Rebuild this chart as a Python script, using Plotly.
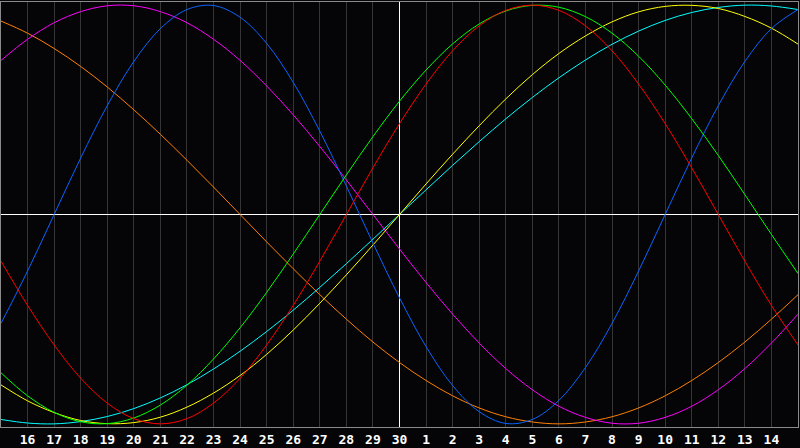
import plotly.graph_objects as go

# day offsets relative to "today" (30th) and labels
days = list(range(-15, 16))
tick_offsets = list(range(-14, 15))
tick_labels = ["16", "17", "18", "19", "20", "21", "22", "23", "24", "25", "26", "27", "28", "29", "30",
               "1", "2", "3", "4", "5", "6", "7", "8", "9", "10", "11", "12", "13", "14"]

blue = [-0.520, -0.270, 0.000, 0.270, 0.520, 0.731, 0.888, 0.979, 0.998, 0.942, 0.817, 0.631, 0.398, 0.136, -0.136, -0.398,
        -0.631, -0.817, -0.942, -0.998, -0.979, -0.888, -0.731, -0.520, -0.270, 0.000, 0.270, 0.520, 0.731, 0.888, 0.979]
red = [-0.223, -0.434, -0.623, -0.782, -0.901, -0.975, -1.000, -0.975, -0.901, -0.782, -0.623, -0.434, -0.223, 0.000, 0.223, 0.434,
       0.623, 0.782, 0.901, 0.975, 1.000, 0.975, 0.901, 0.782, 0.623, 0.434, 0.223, 0.000, -0.223, -0.434, -0.623]
green = [-0.756, -0.866, -0.945, -0.990, -0.999, -0.972, -0.910, -0.815, -0.690, -0.541, -0.372, -0.189, 0.000, 0.189, 0.372, 0.541,
         0.690, 0.815, 0.910, 0.972, 0.999, 0.990, 0.945, 0.866, 0.756, 0.618, 0.458, 0.282, 0.095, -0.095, -0.282]
magenta = [0.736, 0.837, 0.916, 0.969, 0.997, 0.997, 0.969, 0.916, 0.837, 0.736, 0.614, 0.476, 0.325, 0.165, 0.000, -0.165,
           -0.325, -0.476, -0.614, -0.736, -0.837, -0.916, -0.969, -0.997, -0.997, -0.969, -0.916, -0.837, -0.736, -0.614, -0.476]
yellow = [-0.814, -0.890, -0.946, -0.984, -0.999, -0.994, -0.968, -0.920, -0.853, -0.769, -0.668, -0.552, -0.424, -0.288, -0.146, 0.000,
          0.146, 0.288, 0.424, 0.552, 0.668, 0.769, 0.853, 0.920, 0.968, 0.994, 0.999, 0.984, 0.946, 0.890, 0.814]
orange = [0.924, 0.866, 0.793, 0.707, 0.609, 0.500, 0.383, 0.259, 0.131, 0.000, -0.131, -0.259, -0.383, -0.500, -0.609, -0.707,
          -0.793, -0.866, -0.924, -0.966, -0.991, -1.000, -0.991, -0.966, -0.924, -0.866, -0.793, -0.707, -0.609, -0.500, -0.383]
cyan = [-0.979, -0.996, -1.000, -0.989, -0.965, -0.927, -0.876, -0.813, -0.738, -0.653, -0.559, -0.457, -0.348, -0.235, -0.118, 0.000,
        0.118, 0.235, 0.348, 0.457, 0.559, 0.653, 0.738, 0.813, 0.876, 0.927, 0.965, 0.989, 1.000, 0.996, 0.979]

series = [
    ("orange", orange, "#ff8000"),
    ("magenta", magenta, "#ff00ff"),
    ("cyan", cyan, "#00ffff"),
    ("yellow", yellow, "#ffff00"),
    ("blue", blue, "#0a64ff"),
    ("green", green, "#00ff00"),
    ("red", red, "#ff0000"),
]

fig = go.Figure()
for name, vals, col in series:
    fig.add_trace(go.Scatter(x=days, y=vals, mode="lines", name=name,
                             line=dict(color=col, width=1, shape="spline", smoothing=1.0),
                             hoverinfo="skip"))

fig.update_layout(
    width=800, height=448,
    margin=dict(l=1, r=1, t=1, b=20),
    paper_bgcolor="#050508",
    plot_bgcolor="#050508",
    showlegend=False,
    xaxis=dict(
        range=[-15, 15],
        tickmode="array", tickvals=tick_offsets, ticktext=tick_labels,
        showgrid=True, gridcolor="#353535", gridwidth=1,
        zeroline=True, zerolinecolor="#ffffff", zerolinewidth=1,
        showline=True, linecolor="#8a8a8a", linewidth=1, mirror=True,
        ticks="", ticklabelstandoff=0,
        tickfont=dict(family="DejaVu Sans Mono", size=13, color="#ffffff", weight="bold"),
        fixedrange=True,
    ),
    yaxis=dict(
        range=[-1.015, 1.015],
        showgrid=False, showticklabels=False, ticks="",
        zeroline=True, zerolinecolor="#ffffff", zerolinewidth=1,
        showline=True, linecolor="#8a8a8a", linewidth=1, mirror=True,
        fixedrange=True,
    ),
)

fig.write_html(
    "out.html",
    config={"displayModeBar": False},
    post_script="document.body.style.margin='0';document.body.style.background='#050508';",
)
